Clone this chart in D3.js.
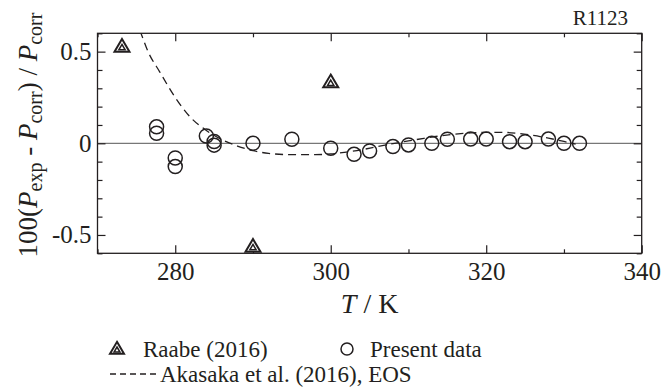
<!DOCTYPE html>
<html><head><meta charset="utf-8">
<script src="https://cdn.jsdelivr.net/npm/d3@7"></script>
<style>
body{margin:0;background:#fff}
svg{display:block}
text{font-family:"Liberation Serif","Times New Roman",serif;fill:#231f20}
</style>
</head><body>
<svg id="c" width="662" height="389"></svg>
<script>
// ---- data ----
const presentT   = [277.6, 277.6, 280, 280, 284, 285, 285, 290, 295, 300, 303, 305, 308, 310, 313, 315, 318, 320, 323, 325, 328, 330, 332];
const presentDev = [0.09, 0.055, -0.08, -0.127, 0.04, 0.01, -0.01, 0.0, 0.022, -0.027, -0.06, -0.042, -0.018, -0.009, 0.0, 0.022, 0.023, 0.023, 0.009, 0.009, 0.023, 0.0, 0.0];
const raabeT   = [273.15, 290, 300];
const raabeDev = [0.527, -0.564, 0.333];
const eosT   = [274.8, 275.5, 276.5, 278, 280, 282, 284, 286, 288, 290, 292, 295, 298, 300, 302, 304, 306, 308, 310, 312, 314, 316, 318, 320, 322, 324, 326, 328, 330, 331.5];
const eosDev = [0.68, 0.61, 0.50, 0.39, 0.25, 0.14, 0.07, 0.02, -0.015, -0.04, -0.055, -0.062, -0.062, -0.058, -0.048, -0.035, -0.018, -0.002, 0.013, 0.027, 0.04, 0.05, 0.057, 0.06, 0.06, 0.054, 0.043, 0.028, 0.01, -0.005];
const xMajor = [280, 300, 320, 340];
const xMinor = [270, 290, 310, 330];
const yMajor = [-0.5, 0, 0.5];
const yMinor = [-0.6, -0.4, -0.3, -0.2, -0.1, 0.1, 0.2, 0.3, 0.4, 0.6];
const yLabels = {"-0.5": "-0.5", "0": "0", "0.5": "0.5"};

// ---- layout ----
const L = 97.5, R = 641.7, T = 33.3, B = 253.3;
const svg = d3.select("#c");
const x = d3.scaleLinear().domain([270, 340]).range([L, R]);
const y = d3.scaleLinear().domain([-0.6, 0.6]).range([B, T]);
const ink = "#231f20";

// zero line
svg.append("line").attr("x1", L).attr("x2", R).attr("y1", y(0)).attr("y2", y(0))
  .attr("stroke", "#555").attr("stroke-width", 1);

// clip
svg.append("clipPath").attr("id", "clip").append("rect")
  .attr("x", L).attr("y", T).attr("width", R - L).attr("height", B - T);

// EOS dashed line
svg.append("path")
  .datum(eosT.map((t, i) => [t, eosDev[i]]))
  .attr("clip-path", "url(#clip)")
  .attr("fill", "none").attr("stroke", ink).attr("stroke-width", 1.3)
  .attr("stroke-dasharray", "8,5")
  .attr("d", d3.line().x(d => x(d[0])).y(d => y(d[1])).curve(d3.curveMonotoneX));

// axes helper
function styleAxis(g) {
  g.select(".domain").remove();
  g.selectAll(".tick line").attr("stroke", ink).attr("stroke-width", 1.2);
  g.selectAll(".tick text").attr("font-size", 25).attr("fill", ink)
    .attr("font-family", '"Liberation Serif","Times New Roman",serif');
}
svg.append("g").attr("transform", `translate(0,${B})`)
  .call(d3.axisBottom(x).tickValues(xMajor).tickSize(-8).tickPadding(9).tickFormat(d3.format("d"))).call(styleAxis);
svg.append("g").attr("transform", `translate(0,${B})`)
  .call(d3.axisBottom(x).tickValues(xMinor).tickSize(-4).tickFormat("")).call(styleAxis);
svg.append("g").attr("transform", `translate(0,${T})`)
  .call(d3.axisTop(x).tickValues(xMajor).tickSize(-8).tickFormat("")).call(styleAxis);
svg.append("g").attr("transform", `translate(0,${T})`)
  .call(d3.axisTop(x).tickValues(xMinor).tickSize(-4).tickFormat("")).call(styleAxis);
svg.append("g").attr("transform", `translate(${L},0)`)
  .call(d3.axisLeft(y).tickValues(yMajor).tickSize(-8).tickPadding(6).tickFormat(d => yLabels[String(d)])).call(styleAxis);
svg.append("g").attr("transform", `translate(${L},0)`)
  .call(d3.axisLeft(y).tickValues(yMinor).tickSize(-5).tickFormat("")).call(styleAxis);
svg.append("g").attr("transform", `translate(${R},0)`)
  .call(d3.axisRight(y).tickValues(yMajor).tickSize(-8).tickFormat("")).call(styleAxis);
svg.append("g").attr("transform", `translate(${R},0)`)
  .call(d3.axisRight(y).tickValues(yMinor).tickSize(-5).tickFormat("")).call(styleAxis);

// frame
svg.append("rect").attr("x", L).attr("y", T).attr("width", R - L).attr("height", B - T)
  .attr("fill", "none").attr("stroke", ink).attr("stroke-width", 1.3);

// present data circles
svg.append("g").selectAll("circle").data(presentT.map((t, i) => [t, presentDev[i]])).join("circle")
  .attr("cx", d => x(d[0])).attr("cy", d => y(d[1])).attr("r", 7)
  .attr("fill", "none").attr("stroke", ink).attr("stroke-width", 1.5);

// double triangle symbol
function triangle(g, cx, cy, s) {
  const h = s * 0.85;
  const outer = `M${cx},${cy - h * 0.6}L${cx + s / 2},${cy + h * 0.4}L${cx - s / 2},${cy + h * 0.4}Z`;
  const s2 = s * 0.42, h2 = h * 0.42;
  const inner = `M${cx},${cy - h2 * 0.6 + 1}L${cx + s2 / 2},${cy + h2 * 0.4 + 1}L${cx - s2 / 2},${cy + h2 * 0.4 + 1}Z`;
  g.append("path").attr("d", outer).attr("fill", "#fff").attr("stroke", ink).attr("stroke-width", 2);
  g.append("path").attr("d", inner).attr("fill", "#fff").attr("stroke", ink).attr("stroke-width", 1.5);
}
const tg = svg.append("g");
raabeT.forEach((t, i) => triangle(tg, x(t), y(raabeDev[i]), 15));

// R1123
svg.append("text").attr("x", 628).attr("y", 25).attr("text-anchor", "end").attr("font-size", 21).text("R1123");

// x title
const xt = svg.append("text").attr("x", (L + R) / 2).attr("y", 313).attr("text-anchor", "middle").attr("font-size", 28);
xt.append("tspan").attr("font-style", "italic").text("T");
xt.append("tspan").text(" / K");

// y title
const yt = svg.append("text").attr("transform", `translate(37,${135}) rotate(-90)`)
  .attr("text-anchor", "middle").attr("font-size", 27);
yt.append("tspan").text("100(");
yt.append("tspan").attr("font-style", "italic").text("P");
yt.append("tspan").attr("font-size", 20).attr("dy", 5).text("exp");
yt.append("tspan").attr("dy", -5).text(" - ");
yt.append("tspan").attr("font-style", "italic").text("P");
yt.append("tspan").attr("font-size", 20).attr("dy", 5).text("corr");
yt.append("tspan").attr("dy", -5).text(") / ");
yt.append("tspan").attr("font-style", "italic").text("P");
yt.append("tspan").attr("font-size", 20).attr("dy", 5).text("corr");

// legend
const lg = svg.append("g");
triangle(lg, 117, 349, 14);
lg.append("text").attr("x", 143).attr("y", 357).attr("font-size", 23).text("Raabe (2016)");
lg.append("circle").attr("cx", 347).attr("cy", 349).attr("r", 6).attr("fill", "none").attr("stroke", ink).attr("stroke-width", 1.5);
lg.append("text").attr("x", 370).attr("y", 357).attr("font-size", 23).text("Present data");
lg.append("line").attr("x1", 110).attr("x2", 158).attr("y1", 374).attr("y2", 374)
  .attr("stroke", ink).attr("stroke-width", 1.3).attr("stroke-dasharray", "6,4");
lg.append("text").attr("x", 160).attr("y", 382).attr("font-size", 23).text("Akasaka et al. (2016), EOS");
</script>
</body></html>
